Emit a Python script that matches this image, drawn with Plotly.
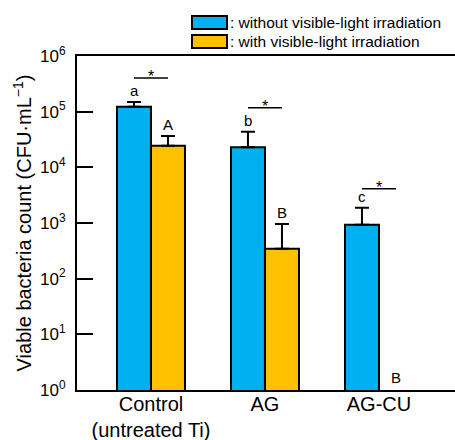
import math
import plotly.graph_objects as go

# Data: viable bacteria counts (CFU/mL), mean and upper error-bar end
groups = ["Control<br>(untreated Ti)", "AG", "AG-CU"]
dark_mean = [1.23e5, 2.3e4, 9.3e2]
dark_upper = [1.49e5, 4.36e4, 1.87e3]
light_mean = [2.45e4, 3.45e2, None]
light_upper = [3.66e4, 9.6e2, None]
dark_letters = ["a", "b", "c"]
light_letters = ["A", "B", "B"]
series_names = [": without visible-light irradiation", ": with visible-light irradiation"]
tick_vals = [1, 10, 100, 1e3, 1e4, 1e5, 1e6]
tick_text = ["10<sup>0</sup>", "10<sup>1</sup>", "10<sup>2</sup>", "10<sup>3</sup>",
             "10<sup>4</sup>", "10<sup>5</sup>", "10<sup>6</sup>"]

BLUE = "#00B0F0"
GOLD = "#FFC000"
FONT = "Liberation Sans, Arial, Helvetica, sans-serif"

W, H = 455, 440
ML, MR, MT, MB = 77, 0, 56, 50
OFF = 0.149  # half of one bar width, in category units


def err_plus(mean, upper):
    return [None if m is None else u - m for m, u in zip(mean, upper)]


fig = go.Figure()
for name, mean, upper, color in [
    (series_names[0], dark_mean, dark_upper, BLUE),
    (series_names[1], light_mean, light_upper, GOLD),
]:
    fig.add_trace(go.Bar(
        x=list(range(len(groups))), y=mean, name=name,
        marker=dict(color=color, line=dict(color="black", width=2)),
        error_y=dict(type="data", symmetric=False, array=err_plus(mean, upper),
                     arrayminus=[0] * len(mean), color="black", thickness=2, width=7),
        showlegend=False,
    ))

# Group letters above each error bar
for i in range(len(groups)):
    fig.add_annotation(x=i - OFF, y=math.log10(dark_upper[i]), text=dark_letters[i],
                       showarrow=False, yanchor="bottom", yshift=1,
                       font=dict(size=15, color="black", family=FONT))
    if light_upper[i] is not None:
        fig.add_annotation(x=i + OFF, y=math.log10(light_upper[i]), text=light_letters[i],
                           showarrow=False, yanchor="bottom", yshift=1,
                           font=dict(size=15, color="black", family=FONT))
    else:
        fig.add_annotation(x=i + OFF, y=0, text=light_letters[i],
                           showarrow=False, yanchor="bottom", yshift=2,
                           font=dict(size=15, color="black", family=FONT))

# Significance markers between the two bars of each group
sig_gap_px = [24, 24, 19]
for i in range(len(groups)):
    tops = [v for v in (dark_upper[i], light_upper[i]) if v is not None]
    base = max(tops)
    g = sig_gap_px[i]
    fig.add_shape(type="line", xref="x", yref="y", ysizemode="pixel", yanchor=base,
                  x0=i - OFF, x1=i + OFF, y0=g, y1=g,
                  line=dict(color="black", width=1.5))
    fig.add_annotation(x=i, y=math.log10(base), text="*", showarrow=False,
                       yanchor="bottom", yshift=g - 9,
                       font=dict(size=16, color="black", family=FONT))


# Custom legend: wide colour boxes with text
def px_x(p):
    return (p - ML) / (W - ML - MR)


def px_y(p):
    return 1 - (p - MT) / (H - MT - MB)


for (y0, y1), color, name in [((16, 29), BLUE, series_names[0]),
                              ((35, 48), GOLD, series_names[1])]:
    fig.add_shape(type="rect", xref="paper", yref="paper",
                  x0=px_x(192), x1=px_x(227), y0=px_y(y1), y1=px_y(y0),
                  fillcolor=color, line=dict(color="black", width=2))
    fig.add_annotation(xref="paper", yref="paper", x=px_x(228), y=px_y((y0 + y1) / 2),
                       text=name, showarrow=False, xanchor="left", yanchor="middle",
                       font=dict(size=15.5, color="black", family=FONT))

fig.update_layout(
    width=W, height=H,
    margin=dict(l=ML, r=MR, t=MT, b=MB),
    plot_bgcolor="white", paper_bgcolor="white",
    barmode="group", bargap=0.4035, bargroupgap=0,
    font=dict(family=FONT, color="black"),
)
fig.update_xaxes(
    tickvals=list(range(len(groups))), ticktext=groups, automargin=False,
    range=[-0.649, 2.667], showline=True, linecolor="black", linewidth=2,
    mirror=True, ticks="", showgrid=False, zeroline=False, ticklabelstandoff=-5,
    tickfont=dict(size=20, family=FONT, color="black"),
)
fig.update_yaxes(
    type="log", range=[0, 6], tickvals=tick_vals, ticktext=tick_text, automargin=False,
    showline=True, linecolor="black", linewidth=2, mirror=False,
    ticks="inside", ticklen=16, tickwidth=2, tickcolor="black",
    showgrid=False, zeroline=False, ticklabelstandoff=6,
    tickfont=dict(size=17, family=FONT, color="black"),
    title=dict(text="Viable bacteria count (CFU·mL<sup>−1</sup>)", standoff=3,
               font=dict(size=20, family=FONT, color="black")),
)

fig.write_html("out.html")
